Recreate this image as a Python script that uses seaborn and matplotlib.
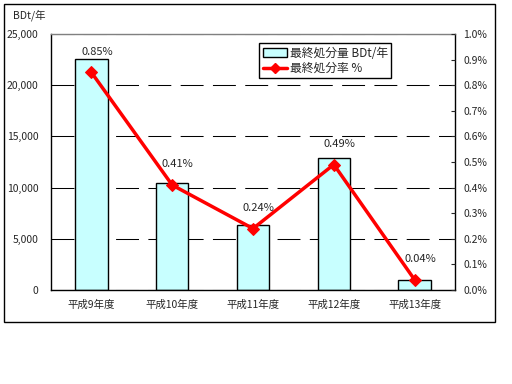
import numpy as np
import pandas as pd
import matplotlib
matplotlib.use("Agg")
import matplotlib.pyplot as plt
import seaborn as sns
from matplotlib.patches import Patch, Rectangle
from matplotlib.lines import Line2D
from matplotlib.ticker import PercentFormatter, FuncFormatter, MultipleLocator, FixedLocator

# -----------------------------
# DATA
# -----------------------------
years = ["平成9年度", "平成10年度", "平成11年度", "平成12年度", "平成13年度"]
amount_bdt = [22600, 10450, 6300, 12880, 960]      # 最終処分量 BDt/年
rate_pct = [0.85, 0.41, 0.24, 0.49, 0.04]          # 最終処分率 %
rate_labels = ["0.85%", "0.41%", "0.24%", "0.49%", "0.04%"]

df = pd.DataFrame({"year": years, "amount": amount_bdt, "rate": rate_pct})
df["pos"] = np.arange(len(df))

# -----------------------------
# STYLE
# -----------------------------
sns.set_style("white")
plt.rcParams["font.family"] = ["Noto Sans CJK JP", "DejaVu Sans"]
plt.rcParams["font.size"] = 7.5

BAR_COLOR = "#C8FFFF"
LINE_COLOR = "#FF0000"

fig = plt.figure(figsize=(5.12, 3.84), dpi=100)
ax = fig.add_axes([51 / 512, 1 - 290 / 384, 404 / 512, 256 / 384])

# outer chart border
fig.patches.append(Rectangle((4 / 512, 1 - 322 / 384), 491 / 512, 318 / 384,
                             transform=fig.transFigure, fill=False,
                             edgecolor="black", linewidth=1))

# -----------------------------
# BARS
# -----------------------------
sns.barplot(data=df, x="year", y="amount", ax=ax, color=BAR_COLOR,
            saturation=1, edgecolor="black", linewidth=1, width=0.4, zorder=2)

ax.set_xlim(-0.5, len(df) - 0.5)
ax.set_ylim(0, 25000)
ax.yaxis.set_major_locator(MultipleLocator(5000))
ax.yaxis.set_major_formatter(FuncFormatter(lambda v, p: f"{int(v):,}"))
ax.set_axisbelow(True)
ax.grid(axis="y", color="black", linestyle=(0, (22, 9)), linewidth=0.75)
ax.grid(axis="x", visible=False)
ax.set_xlabel("")
ax.set_ylabel("")

ax.tick_params(axis="y", length=0, pad=9, labelsize=7.5)
ax.tick_params(axis="x", which="major", length=0, pad=7, labelsize=7.5)
ax.xaxis.set_minor_locator(FixedLocator(np.arange(0.5, len(df) - 1, 1.0)))
ax.tick_params(axis="x", which="minor", direction="in", length=3, width=0.8)

for side in ["left", "bottom", "right"]:
    ax.spines[side].set_color("black")
    ax.spines[side].set_linewidth(1)
ax.spines["top"].set_color("#808080")
ax.spines["top"].set_linewidth(1)

# -----------------------------
# RATE LINE (secondary axis)
# -----------------------------
ax2 = ax.twinx()
sns.lineplot(data=df, x="pos", y="rate", ax=ax2, color=LINE_COLOR,
             linewidth=2.5, marker="D", markersize=6,
             markeredgecolor=LINE_COLOR, sort=False, zorder=3)
ax2.set_xlim(-0.5, len(df) - 0.5)
ax2.set_ylim(0, 1.0)
ax2.yaxis.set_major_locator(MultipleLocator(0.1))
ax2.yaxis.set_major_formatter(PercentFormatter(decimals=1))
ax2.tick_params(axis="y", direction="in", length=3, width=0.8, pad=6, labelsize=7.5)
ax2.set_xlabel("")
ax2.set_ylabel("")
for side in ["left", "bottom", "right", "top"]:
    ax2.spines[side].set_visible(False)

for x, y, lab in zip(df["pos"], df["rate"], rate_labels):
    ax2.annotate(lab, (x, y), xytext=(4, 15), textcoords="offset points",
                 ha="center", va="center", fontsize=8)

# -----------------------------
# LEGEND
# -----------------------------
handles = [
    Patch(facecolor=BAR_COLOR, edgecolor="black", linewidth=1),
    Line2D([], [], color=LINE_COLOR, linewidth=2.5, marker="D", markersize=5),
]
leg = ax2.legend(handles, ["最終処分量 BDt/年", "最終処分率 %"],
                 loc="upper left", bbox_to_anchor=((259 - 51) / 404, (290 - 43) / 256),
                 fontsize=8.5, frameon=True, fancybox=False, framealpha=1,
                 edgecolor="black", borderpad=0.3, labelspacing=0.2,
                 handlelength=2.1, handleheight=0.7, handletextpad=0.2,
                 borderaxespad=0)
leg.get_frame().set_linewidth(1)

fig.text(13 / 512, 1 - 15 / 384, "BDt/年", ha="left", va="center", fontsize=7.5)

fig.savefig("out.png", dpi=100)
